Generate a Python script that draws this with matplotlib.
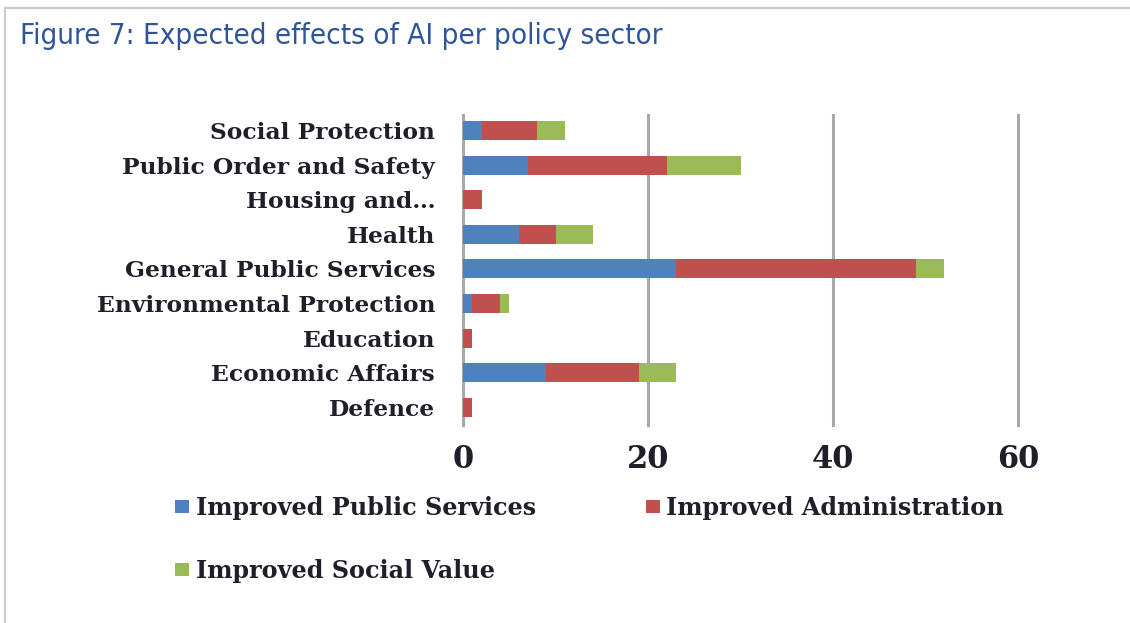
import matplotlib.pyplot as plt
from matplotlib.lines import Line2D
import numpy as np

# policy sectors, listed bottom to top as they are stacked on the y axis
sectors = ['Defence', 'Economic Affairs', 'Education', 'Environmental Protection',
           'General Public Services', 'Health', 'Housing and\u2026',
           'Public Order and Safety', 'Social Protection']
public_services = [0, 9, 0, 1, 23, 6, 0, 7, 2]
administration = [1, 10, 1, 3, 26, 4, 2, 15, 6]
social_value = [0, 4, 0, 1, 3, 4, 0, 8, 3]
series_names = ['Improved Public Services', 'Improved Administration', 'Improved Social Value']
colors = ['#4F81BD', '#C0504D', '#9BBB59']
xticks = [0, 20, 40, 60]

W, H = 1130, 623
fig = plt.figure(figsize=(W / 100, H / 100), dpi=100)
ax = fig.add_axes([463 / W, 1 - 425 / H, (1018 - 463) / W, (425 - 115) / H])

y = np.arange(len(sectors))
left = np.zeros(len(sectors))
bars = []
for vals, name, c in zip([public_services, administration, social_value], series_names, colors):
    b = ax.barh(y, vals, left=left, height=0.55, color=c, label=name, zorder=3)
    bars.append(b)
    left += np.array(vals)

for xv in xticks:
    ax.axvline(xv, color='#A8A8A8', lw=2.2, zorder=1, clip_on=False)

txt = '#1F1F2A'
ax.set_xlim(0, 60)
ax.set_ylim(-0.52, 8.46)
ax.set_yticks(y)
ax.set_yticklabels(sectors, family='DejaVu Serif', fontsize=16.8, weight='bold', color=txt)
ax.set_xticks(xticks)
ax.set_xticklabels([str(v) for v in xticks], family='DejaVu Serif', fontsize=22, weight='bold', color=txt)
ax.tick_params(axis='y', length=0, pad=20)
ax.tick_params(axis='x', length=0, pad=14)
for s in ax.spines.values():
    s.set_visible(False)

# legend fills column-first, so reorder to get two entries on the first row
handles = [bars[0], bars[2], bars[1]]
labels = [series_names[0], series_names[2], series_names[1]]
fig.legend(handles, labels, loc='upper left', bbox_to_anchor=(175 / W, 1 - 496 / H),
           ncol=2, frameon=False, borderpad=0, borderaxespad=0,
           prop={'family': 'DejaVu Serif', 'size': 17.2, 'weight': 'bold'},
           handlelength=0.6, handleheight=0.45, handletextpad=0.26,
           labelspacing=1.62, columnspacing=4.6, labelcolor=txt)

fig.text(20 / W, 1 - 36 / H, 'Figure 7: Expected effects of AI per policy sector',
         family='DejaVu Sans', fontstretch='condensed', fontsize=21.2, color='#2E5597',
         va='center', ha='left')

# light grey frame on the top and left edges
fig.add_artist(Line2D([5 / W, 5 / W], [0, 1 - 8 / H], color='#CCCCCC', lw=1.6))
fig.add_artist(Line2D([5 / W, 1], [1 - 8 / H, 1 - 8 / H], color='#CCCCCC', lw=1.6))

fig.savefig('out.png', dpi=100, facecolor='white')
